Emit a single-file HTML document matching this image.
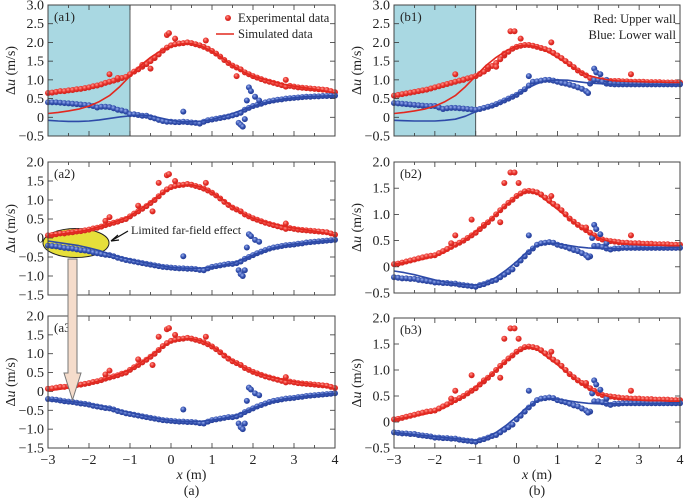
<!DOCTYPE html>
<html><head><meta charset="utf-8"><style>
body{margin:0;background:#fff}
svg{display:block;font-family:"Liberation Serif",serif}
</style></head><body>
<svg id="c" width="685" height="502" viewBox="0 0 685 502">
<defs>
<radialGradient id="gr" cx="0.4" cy="0.35" r="0.7"><stop offset="0" stop-color="#ff9a90"/><stop offset="0.5" stop-color="#e8302a"/><stop offset="1" stop-color="#c8201a"/></radialGradient>
<radialGradient id="gb" cx="0.4" cy="0.35" r="0.7"><stop offset="0" stop-color="#9ab0f0"/><stop offset="0.5" stop-color="#3552b0"/><stop offset="1" stop-color="#203890"/></radialGradient>
</defs>
</svg>
<script>
// x grid for experimental data: -3.0 .. 4.0 step 0.1
const xs=[];for(let i=0;i<=70;i++)xs.push(-3+i*0.1);
const simX=[];for(let i=0;i<=28;i++)simX.push(-3+i*0.25);

const a1Red=[.65,.66,.68,.70,.70,.72,.73,.75,.76,.78,.80,.83,.85,.88,.92,.95,.98,1.01,1.05,1.08,1.15,1.22,1.28,1.35,1.42,1.50,1.58,1.68,1.78,1.86,1.92,1.95,1.97,1.98,2.00,1.98,1.95,1.92,1.88,1.83,1.77,1.70,1.62,1.53,1.45,1.38,1.33,1.28,1.20,1.15,1.10,1.06,1.02,.98,.95,.92,.89,.86,.82,.84,.82,.80,.79,.78,.77,.76,.75,.74,.73,.70,.67];
const a1RedOut=[[-1.5,1.15],[-1.3,1.05],[-0.7,1.4],[-0.5,1.3],[-0.4,1.6],[-0.1,2.2],[-0.05,2.25],[0.1,2.1],[0.85,2.05],[2.8,1.0],[1.6,1.1]];
const a1Blue=[.40,.40,.40,.39,.38,.37,.36,.35,.34,.33,.32,.30,.26,.28,.28,.27,.24,.20,.18,.15,.08,.08,.06,.04,.04,.00,-.03,-.07,-.10,-.12,-.12,-.13,-.13,-.12,-.13,-.14,-.15,-.17,-.12,-.08,-.06,-.04,-.02,.00,.02,.05,.08,.12,.20,.25,.30,.33,.36,.40,.43,.45,.47,.48,.50,.51,.52,.53,.54,.55,.55,.56,.56,.57,.57,.58,.58];
const a1BlueOut=[[0.3,0.15],[1.65,-0.15],[1.7,-0.2],[1.75,-0.25],[1.8,-0.05],[1.9,0.8],[1.95,0.7],[2.05,0.55],[1.85,0.45],[2.15,0.45]];
const a1SimRed=[.10,.13,.17,.22,.30,.42,.58,.82,1.10,1.38,1.60,1.78,1.90,1.96,1.97,1.90,1.76,1.58,1.38,1.22,1.10,1.02,.95,.88,.83,.79,.75,.70,.65];
const a1SimBlue=[-.08,-.10,-.11,-.11,-.10,-.07,-.03,.01,.04,.06,.04,-.02,-.08,-.12,-.12,-.10,-.06,.02,.10,.20,.30,.38,.44,.49,.52,.55,.56,.57,.58];

const a2Red=[.07,.08,.10,.12,.12,.14,.15,.17,.18,.20,.22,.25,.27,.30,.34,.37,.40,.43,.47,.50,.57,.64,.70,.77,.84,.92,1.00,1.10,1.20,1.28,1.34,1.37,1.39,1.40,1.42,1.40,1.37,1.34,1.30,1.25,1.19,1.12,1.04,.95,.87,.80,.75,.70,.62,.57,.52,.48,.44,.40,.37,.34,.31,.28,.24,.26,.24,.22,.21,.20,.19,.18,.17,.16,.15,.12,.09];
const a2RedOut=[[-1.6,0.45],[-1.5,0.55],[-0.8,0.85],[-0.45,0.7],[-0.3,1.45],[-0.1,1.65],[-0.05,1.68],[0.1,1.5],[0.85,1.45],[2.8,0.38]];
const a2Blue=[-.20,-.21,-.22,-.24,-.26,-.27,-.28,-.30,-.32,-.33,-.35,-.38,-.40,-.42,-.44,-.45,-.48,-.52,-.55,-.58,-.60,-.62,-.64,-.66,-.68,-.70,-.72,-.74,-.76,-.77,-.78,-.79,-.80,-.80,-.81,-.81,-.82,-.84,-.85,-.80,-.76,-.74,-.72,-.70,-.68,-.68,-.66,-.62,-.55,-.50,-.45,-.40,-.36,-.32,-.28,-.25,-.23,-.21,-.19,-.18,-.17,-.15,-.14,-.12,-.11,-.10,-.09,-.08,-.07,-.06,-.05];
const a2BlueOut=[[0.3,-0.48],[1.65,-0.85],[1.7,-0.95],[1.75,-1.0],[1.8,-0.85],[1.9,0.1],[1.95,0.05],[2.05,-0.05],[2.15,-0.1],[1.85,-0.25]];
const a2SimRed=[.07,.09,.13,.17,.22,.30,.38,.47,.58,.76,.95,1.16,1.31,1.38,1.40,1.34,1.20,1.02,.82,.65,.52,.44,.37,.31,.26,.22,.18,.13,.07];
const a2SimBlue=[-.08,-.12,-.16,-.20,-.26,-.33,-.42,-.50,-.56,-.62,-.68,-.73,-.77,-.79,-.80,-.79,-.76,-.72,-.66,-.56,-.45,-.34,-.26,-.20,-.16,-.13,-.10,-.07,-.05];
const a3SimRed=[.02,.05,.09,.14,.20,.28,.37,.47,.58,.76,.95,1.16,1.31,1.38,1.40,1.34,1.20,1.02,.82,.65,.52,.44,.37,.31,.26,.22,.18,.13,.07];
const a3SimBlue=[-.20,-.23,-.26,-.29,-.33,-.37,-.43,-.50,-.56,-.62,-.68,-.73,-.77,-.79,-.80,-.79,-.76,-.72,-.66,-.56,-.45,-.34,-.26,-.20,-.16,-.13,-.10,-.07,-.05];

const b1Red=[.58,.60,.62,.64,.66,.68,.70,.72,.74,.77,.80,.83,.86,.89,.92,.95,.98,1.01,1.04,1.07,1.10,1.16,1.22,1.29,1.37,1.45,1.55,1.65,1.75,1.83,1.88,1.91,1.93,1.93,1.91,1.88,1.85,1.82,1.78,1.72,1.65,1.58,1.50,1.42,1.34,1.25,1.18,1.12,1.05,1.02,1.00,.99,.98,.97,.97,.97,.96,.96,.95,.95,.95,.95,.94,.94,.94,.94,.93,.93,.93,.93,.93];
const b1RedOut=[[-1.5,1.15],[-1.3,1.0],[-0.7,1.35],[-0.5,1.35],[-0.3,1.7],[-0.15,2.3],[-0.05,2.3],[0.1,2.1],[0.85,2.0],[2.8,1.15]];
const b1Blue=[.38,.37,.36,.35,.34,.33,.32,.31,.30,.30,.30,.26,.22,.24,.25,.25,.24,.23,.22,.21,.20,.22,.25,.28,.31,.35,.40,.45,.50,.55,.60,.68,.75,.85,.95,.96,.98,1.00,1.00,.98,.95,.92,.90,.87,.84,.80,.76,.70,.90,1.00,1.00,.95,.90,.89,.88,.88,.88,.88,.88,.88,.88,.88,.88,.88,.88,.88,.88,.88,.88,.88,.88];
const b1BlueOut=[[0.3,1.1],[1.75,0.65],[1.9,1.3],[1.95,1.2],[2.05,1.15],[2.2,1.0]];
const b1SimRed=[.10,.13,.17,.22,.30,.42,.58,.82,1.10,1.38,1.60,1.78,1.90,1.93,1.88,1.76,1.60,1.42,1.25,1.12,1.05,1.00,.97,.96,.95,.94,.94,.93,.93];
const b1SimBlue=[-.08,-.09,-.10,-.10,-.10,-.08,-.05,.03,.15,.24,.35,.48,.62,.77,.90,.98,1.00,.99,.95,.92,.90,.89,.88,.88,.88,.88,.88,.88,.88];

const b2Red=[.05,.06,.08,.10,.12,.14,.16,.18,.20,.21,.22,.26,.30,.34,.38,.42,.46,.50,.55,.60,.65,.72,.78,.85,.92,1.00,1.08,1.15,1.22,1.28,1.35,1.40,1.44,1.45,1.44,1.42,1.38,1.32,1.26,1.20,1.15,1.08,1.00,.92,.86,.80,.75,.70,.65,.60,.55,.52,.50,.49,.48,.47,.46,.46,.45,.45,.45,.44,.44,.44,.43,.43,.43,.43,.42,.42,.42];
const b2RedOut=[[-1.6,0.45],[-1.5,0.6],[-1.1,0.9],[-0.8,0.8],[-0.4,0.85],[-0.3,1.6],[-0.15,1.8],[-0.05,1.8],[0.05,1.6],[0.85,1.35],[2.8,0.6],[1.7,0.75]];
const b2Blue=[-.20,-.21,-.22,-.22,-.23,-.23,-.25,-.26,-.27,-.28,-.30,-.30,-.31,-.31,-.32,-.32,-.34,-.35,-.36,-.37,-.38,-.35,-.33,-.30,-.27,-.25,-.20,-.15,-.10,-.05,.05,.12,.20,.28,.35,.42,.45,.46,.47,.46,.42,.40,.38,.35,.32,.30,.26,.22,.20,.40,.40,.38,.35,.33,.35,.35,.36,.36,.36,.36,.36,.36,.36,.36,.36,.36,.36,.36,.36,.36,.36];
const b2BlueOut=[[0.3,0.6],[1.75,0.18],[1.9,0.8],[1.95,0.72],[2.05,0.62],[2.2,0.45],[1.85,0.55]];
const b2SimRed=[.05,.08,.11,.15,.20,.28,.40,.52,.68,.83,1.00,1.18,1.35,1.45,1.40,1.25,1.10,.94,.78,.65,.55,.49,.45,.43,.42,.41,.41,.40,.40];
const b2SimBlue=[-.08,-.11,-.15,-.20,-.25,-.29,-.32,-.34,-.35,-.30,-.20,-.06,.10,.28,.40,.45,.44,.41,.38,.36,.35,.35,.35,.35,.36,.36,.36,.37,.37];
const b3SimBlue=[-.20,-.22,-.24,-.26,-.28,-.30,-.32,-.34,-.35,-.30,-.20,-.06,.10,.28,.40,.45,.44,.41,.38,.36,.35,.35,.35,.35,.36,.36,.36,.37,.37];

const yTicksA=["3.0","2.5","2.0","1.5","1.0","0.5","0","−0.5"];
const yTicksB=["2.0","1.5","1.0","0.5","0","−0.5","−1.0","−1.5"];
const yTicksC=["2.0","1.5","1.0","0.5","0","−0.5"];
const xTickLabels=["−3","−2","−1","0","1","2","3","4"];

const NS="http://www.w3.org/2000/svg";
const svg=document.getElementById('c');
function mk(tag,attrs,parent){const e=document.createElementNS(NS,tag);for(const k in attrs)e.setAttribute(k,attrs[k]);(parent||svg).appendChild(e);return e;}

const panels=[
 {id:'a1',x0:48,x1:335,y0:5,y1:136,ymin:-0.5,ymax:3,ticks:yTicksA,shade:true,
  red:a1Red,redOut:a1RedOut,blue:a1Blue,blueOut:a1BlueOut,sr:a1SimRed,sb:a1SimBlue},
 {id:'a2',x0:48,x1:335,y0:162,y1:295,ymin:-1.5,ymax:2,ticks:yTicksB,ell:true,
  red:a2Red,redOut:a2RedOut,blue:a2Blue,blueOut:a2BlueOut,sr:a2SimRed,sb:a2SimBlue},
 {id:'a3',x0:48,x1:335,y0:316,y1:448,ymin:-1.5,ymax:2,ticks:yTicksB,xl:true,
  red:a2Red,redOut:a2RedOut,blue:a2Blue,blueOut:a2BlueOut,sr:a3SimRed,sb:a3SimBlue},
 {id:'b1',x0:394,x1:680,y0:5,y1:136,ymin:-0.5,ymax:3,ticks:yTicksA,shade:true,
  red:b1Red,redOut:b1RedOut,blue:b1Blue,blueOut:b1BlueOut,sr:b1SimRed,sb:b1SimBlue},
 {id:'b2',x0:394,x1:680,y0:162,y1:293,ymin:-0.5,ymax:2,ticks:yTicksC,
  red:b2Red,redOut:b2RedOut,blue:b2Blue,blueOut:b2BlueOut,sr:b2SimRed,sb:b2SimBlue},
 {id:'b3',x0:394,x1:680,y0:318,y1:448,ymin:-0.5,ymax:2,ticks:yTicksC,xl:true,
  red:b2Red,redOut:b2RedOut,blue:b2Blue,blueOut:b2BlueOut,sr:b2SimRed,sb:b3SimBlue},
];

panels.forEach(p=>{
  const g=mk('g',{});
  
  
  const X=v=>p.x0+(v+3)/7*(p.x1-p.x0);
  const Y=v=>p.y1-(v-p.ymin)/(p.ymax-p.ymin)*(p.y1-p.y0);
  if(p.shade){
    const r=mk('rect',{x:p.x0,y:p.y0,width:X(-1)-p.x0,height:p.y1-p.y0,fill:'#a9d8e2'},g);
    
    
    mk('line',{x1:X(-1),x2:X(-1),y1:p.y0,y2:p.y1,stroke:'#333','stroke-width':0.8},g);
  }
  if(p.ell){
    const el=mk('ellipse',{cx:76,cy:243,rx:33,ry:14.5,fill:'#e6df3a',stroke:'#222','stroke-width':1},g);
    
    
  }
  for(let i=0;i<=14;i++){const v=-3+i*0.5,x=X(v),l=(i%2==0)?5:3;
    mk('line',{x1:x,x2:x,y1:p.y1,y2:p.y1-l,stroke:'#333','stroke-width':0.8},g);
    mk('line',{x1:x,x2:x,y1:p.y0,y2:p.y0+l,stroke:'#333','stroke-width':0.8},g);}
  p.ticks.forEach((t,i)=>{const y=p.y0+i*(p.y1-p.y0)/(p.ticks.length-1);
    mk('line',{x1:p.x0,x2:p.x0+5,y1:y,y2:y,stroke:'#333','stroke-width':0.8},g);
    mk('line',{x1:p.x1,x2:p.x1-5,y1:y,y2:y,stroke:'#333','stroke-width':0.8},g);
    const tx=mk('text',{x:p.x0-4,y:y+4.5,'text-anchor':'end','font-size':14,fill:'#222'},g);
    
    
    tx.textContent=t;});
  if(p.xl){xTickLabels.forEach((t,i)=>{const tx=mk('text',{x:X(-3+i),y:p.y1+16,'text-anchor':'middle','font-size':14,fill:'#222'},g);
    
    
    tx.textContent=t;});
    const xt=mk('text',{x:(p.x0+p.x1)/2,y:p.y1+31,'text-anchor':'middle','font-size':14,fill:'#222'},g);
    
    
    xt.innerHTML='<tspan font-style="italic">x</tspan> (m)';
    const cap=mk('text',{x:(p.x0+p.x1)/2,y:p.y1+47,'text-anchor':'middle','font-size':14,fill:'#222'},g);
    
    
    cap.textContent=p.id[0]=='a'?'(a)':'(b)';}
  const yt=mk('text',{x:0,y:0,'text-anchor':'middle','font-size':14,fill:'#222',transform:`translate(${p.x0-33},${(p.y0+p.y1)/2}) rotate(-90)`},g);
  
  
  yt.innerHTML='Δ<tspan font-style="italic">u</tspan> (m/s)';
  const lab=mk('text',{x:p.x0+6,y:p.y0+16,'font-size':13,fill:'#222'},g);
  
  
  lab.textContent='('+p.id+')';
  function dots(vals,out,fill,name){
    vals.forEach((v,i)=>{const c=mk('circle',{cx:X(xs[i]),cy:Y(v),r:3,fill:fill},g);
      
      });
    out.forEach(q=>{const c=mk('circle',{cx:X(q[0]),cy:Y(q[1]),r:3,fill:fill},g);
      
      });
  }
  function line(vals,col,name){
    const d=vals.map((v,i)=>(i?'L':'M')+X(simX[i]).toFixed(1)+','+Y(v).toFixed(1)).join('');
    const l=mk('path',{d:d,fill:'none',stroke:col,'stroke-width':1.6,'stroke-linejoin':'round'},g);
    
    
  }
  dots(p.red,p.redOut,'url(#gr)','upper-wall-point');
  dots(p.blue,p.blueOut,'url(#gb)','lower-wall-point');
  line(p.sr,'#e2281f','upper-wall-simulated-line');
  line(p.sb,'#2d4aa8','lower-wall-simulated-line');
  const fr=mk('rect',{x:p.x0,y:p.y0,width:p.x1-p.x0,height:p.y1-p.y0,fill:'none',stroke:'#444','stroke-width':1},g);
  
  
});

const lg=mk('g',{});


const ld=mk('circle',{cx:228,cy:18,r:3,fill:'url(#gr)'},lg);


const lt1=mk('text',{x:238,y:22,'font-size':12.5,fill:'#222'},lg);


lt1.textContent='Experimental data';
const ll=mk('line',{x1:216,x2:234,y1:34,y2:34,stroke:'#e2281f','stroke-width':1.6},lg);


const lt2=mk('text',{x:238,y:38,'font-size':12.5,fill:'#222'},lg);


lt2.textContent='Simulated data';
const n1=mk('text',{x:676,y:23,'text-anchor':'end','font-size':12.5,fill:'#222'});


n1.textContent='Red: Upper wall';
const n2=mk('text',{x:676,y:39,'text-anchor':'end','font-size':12.5,fill:'#222'});


n2.textContent='Blue: Lower wall';

const ar=mk('path',{d:'M68,259 L77,259 L77,373 L81,373 L72.5,400 L64,373 L68,373 Z',fill:'#f5dccb',stroke:'#777','stroke-width':1});


const al=mk('path',{d:'M128,231 L111,241 M111,241 L118,235 M111,241 L119,240',fill:'none',stroke:'#111','stroke-width':1.2});


const at=mk('text',{x:131,y:234,'font-size':12,fill:'#222'});


at.textContent='Limited far-field effect';
</script>
</body></html>
